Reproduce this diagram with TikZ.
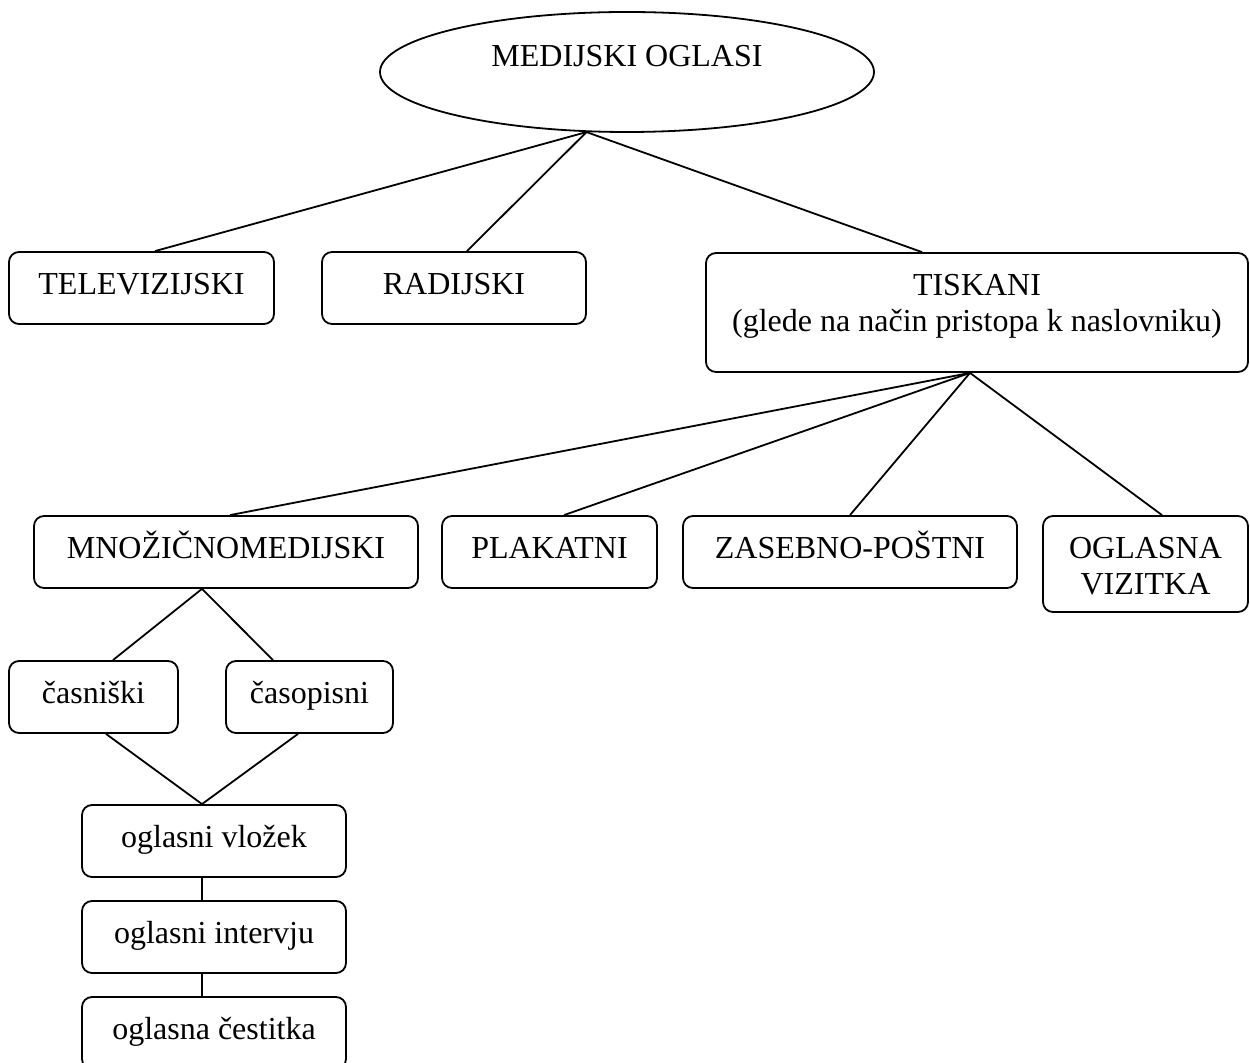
\documentclass[tikz,border=0pt]{standalone}
\usepackage{fontspec}
\setmainfont{Liberation Serif}
\usetikzlibrary{shapes.geometric}

\begin{document}
\begin{tikzpicture}[x=0.5pt,y=-0.5pt,line width=0.9pt,
  box/.style={draw,rounded corners=5pt,inner sep=0pt,minimum height=36pt,
    text height=11pt,text depth=4pt,align=center,
    font=\fontsize{16}{18.4}\selectfont},
  oval/.style={draw,ellipse,inner sep=0pt,minimum width=247pt,minimum height=60pt,
    text height=11pt,text depth=16pt,font=\fontsize{16}{18.4}\selectfont}]
\clip (0,0) rectangle (1250,1063);
\node[oval](root) at (627,72){MEDIJSKI OGLASI};
\node[box,minimum width=132.5pt](tv) at (141.5,288){TELEVIZIJSKI};
\node[box,minimum width=132pt](radio) at (454,288){RADIJSKI};
\node[box,minimum width=271pt,minimum height=59.5pt,text height=30pt,text depth=10.5pt](print) at (977,312.5)
  {TISKANI\\(glede na način pristopa k naslovniku)};
\node[box,minimum width=192pt](mass) at (226,552){MNOŽIČNOMEDIJSKI};
\node[box,minimum width=107.5pt](poster) at (549.5,552){PLAKATNI};
\node[box,minimum width=167pt](mail) at (850,552){ZASEBNO-POŠTNI};
\node[box,minimum width=102.5pt,minimum height=48pt,text height=35pt,text depth=4pt](card) at (1145.5,564)
  {OGLASNA\\VIZITKA};
\node[box,minimum width=84.5pt](paper) at (93.5,697){časniški};
\node[box,minimum width=83.5pt](mag) at (309.5,697){časopisni};
\node[box,minimum width=132pt](insert) at (214,841){oglasni vložek};
\node[box,minimum width=132pt](interview) at (214,937){oglasni intervju};
\node[box,minimum width=132pt](greeting) at (214,1033){oglasna čestitka};
\draw (root.236) -- (tv.north -| 155,0);
\draw (root.236) -- (radio.north -| 467,0);
\draw (root.236) -- (print.north -| 922,0);
\draw (print.south -| 970,0) -- (mass.north -| 230,0);
\draw (print.south -| 970,0) -- (poster.north -| 564,0);
\draw (print.south -| 970,0) -- (mail.north -| 850,0);
\draw (print.south -| 970,0) -- (card.north -| 1162,0);
\draw (mass.south -| 202,0) -- (paper.north -| 113,0);
\draw (mass.south -| 202,0) -- (mag.north -| 273,0);
\draw (paper.south -| 106,0) -- (insert.north -| 202,0) -- (mag.south -| 298,0);
\draw (insert.south -| 202,0) -- (interview.north -| 202,0);
\draw (interview.south -| 202,0) -- (greeting.north -| 202,0);
\end{tikzpicture}
\end{document}
